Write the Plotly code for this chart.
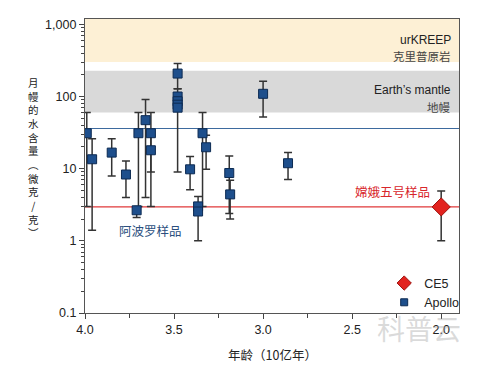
import plotly.graph_objects as go

# ---- data ----
apollo_age = [3.99, 3.96, 3.85, 3.77, 3.70, 3.71, 3.66, 3.63, 3.63, 3.48, 3.48, 3.48, 3.48, 3.48,
              3.41, 3.34, 3.365, 3.365, 3.32, 3.19, 3.185, 3.00, 2.86]
apollo_h2o = [31, 13.5, 16.7, 8.3, 31, 2.65, 47, 31, 18, 208, 100, 86, 77, 70,
              9.8, 31, 3.0, 2.55, 19.8, 8.7, 4.4, 109, 11.9]
apollo_hi = [60, 26, 26, 12.8, 60, 2.95, 91, 60, 31, 287, 128, 100, 86, 77,
             14.8, 60, 4.1, 3.0, 29, 15, 6.9, 163, 16.7]
apollo_lo = [3, 1.4, 7.9, 4, 3, 2.1, 4, 3, 9, 128, 9, 86, 77, 70,
             5.1, 3, 2.55, 1.0, 9.8, 2.4, 2.0, 52, 7.1]

ce5_age = [2.0]
ce5_h2o = [2.95]
ce5_hi = [4.9]
ce5_lo = [1.0]

urkreep_band = [300, 1190]
mantle_band = [60, 228]
apollo_line = 36
ce5_line = 2.95

x_tickvals = [4.0, 3.5, 3.0, 2.5, 2.0]
x_ticktext = ["4.0", "3.5", "3.0", "2.5", "2.0"]
y_tickvals = [0.1, 1, 10, 100, 1000]
y_ticktext = ["0.1", "1", "10", "100", "1,000"]

FONT = "Liberation Sans, Arial, Noto Sans CJK SC, sans-serif"
CJK = "Noto Sans CJK SC, sans-serif"

APOLLO_FILL, APOLLO_EDGE = "#1e4f8c", "#0c2a52"
CE5_FILL, CE5_EDGE = "#e2231f", "#9e1410"

fig = go.Figure()

# bands and reference lines
fig.add_shape(type="rect", xref="paper", x0=0, x1=1, yref="y", y0=urkreep_band[0], y1=urkreep_band[1],
              fillcolor="#fdf0d5", line_width=0, layer="below")
fig.add_shape(type="rect", xref="paper", x0=0, x1=1, yref="y", y0=mantle_band[0], y1=mantle_band[1],
              fillcolor="#d9d9d9", line_width=0, layer="below")
fig.add_shape(type="line", xref="paper", x0=0, x1=1, yref="y", y0=apollo_line, y1=apollo_line,
              line=dict(color="#3d6a9e", width=1.2), layer="below")
fig.add_shape(type="line", xref="paper", x0=0, x1=1, yref="y", y0=ce5_line, y1=ce5_line,
              line=dict(color="#e0383a", width=1.2), layer="below")

fig.add_trace(go.Scatter(
    x=apollo_age, y=apollo_h2o, mode="markers", name="Apollo", showlegend=False,
    marker=dict(symbol="square", size=9, color=APOLLO_FILL, line=dict(color=APOLLO_EDGE, width=1)),
    error_y=dict(type="data", symmetric=False,
                 array=[h - v for h, v in zip(apollo_hi, apollo_h2o)],
                 arrayminus=[v - l for v, l in zip(apollo_h2o, apollo_lo)],
                 color="#333333", thickness=1.5, width=4),
))
fig.add_trace(go.Scatter(
    x=ce5_age, y=ce5_h2o, mode="markers", name="CE5", showlegend=False,
    marker=dict(symbol="diamond", size=14, color=CE5_FILL, line=dict(color=CE5_EDGE, width=1)),
    error_y=dict(type="data", symmetric=False,
                 array=[h - v for h, v in zip(ce5_hi, ce5_h2o)],
                 arrayminus=[v - l for v, l in zip(ce5_h2o, ce5_lo)],
                 color="#333333", thickness=1.5, width=4),
))
# legend entries (smaller legend symbols, as in the reference)
fig.add_trace(go.Scatter(x=[None], y=[None], mode="markers", name="CE5", legendrank=1,
                         marker=dict(symbol="diamond", size=11, color=CE5_FILL,
                                     line=dict(color=CE5_EDGE, width=1))))
fig.add_trace(go.Scatter(x=[None], y=[None], mode="markers", name="Apollo", legendrank=2,
                         marker=dict(symbol="square", size=7, color=APOLLO_FILL,
                                     line=dict(color=APOLLO_EDGE, width=1))))

minor_y = [m * 10 ** e for e in range(-1, 3) for m in range(2, 10)]

fig.update_xaxes(
    range=[4.0, 1.9], tickvals=x_tickvals, ticktext=x_ticktext,
    ticks="outside", ticklen=5, tickwidth=1.2, tickcolor="#444",
    minor=dict(dtick=0.25, tick0=0, ticks="outside", ticklen=4, tickcolor="#444"),
    showline=True, mirror=True, linecolor="#555", linewidth=1.3,
    showgrid=False, zeroline=False, tickfont=dict(size=12.5, color="#222", family=FONT),
)
fig.update_yaxes(
    type="log", range=[-1, 3.074], tickvals=y_tickvals, ticktext=y_ticktext,
    ticks="outside", ticklen=5, tickwidth=1.2, tickcolor="#444",
    minor=dict(tickvals=minor_y, ticks="outside", ticklen=3, tickcolor="#444"),
    showline=True, mirror=True, linecolor="#555", linewidth=1.3,
    showgrid=False, zeroline=False, tickfont=dict(size=12.5, color="#222", family=FONT),
)

ann = [
    dict(text="urKREEP", x=0.983, y=0.928, xanchor="right", yanchor="middle",
         font=dict(size=12, color="#222", family=FONT)),
    dict(text="克里普原岩", x=0.983, y=0.874, xanchor="right", yanchor="middle",
         font=dict(size=11.5, color="#444", family=CJK)),
    dict(text="Earth’s mantle", x=0.983, y=0.758, xanchor="right", yanchor="middle",
         font=dict(size=12, color="#222", family=FONT)),
    dict(text="地幔", x=0.983, y=0.702, xanchor="right", yanchor="middle",
         font=dict(size=11.5, color="#444", family=CJK)),
    dict(text="嫦娥五号样品", x=0.927, y=0.412, xanchor="right", yanchor="middle",
         font=dict(size=12.5, color="#d8262b", family=CJK)),
    dict(text="阿波罗样品", x=0.176, y=0.279, xanchor="center", yanchor="middle",
         font=dict(size=12.5, color="#2b4f7e", family=CJK)),
    dict(text="年龄（10亿年）", x=0.5, y=-0.14, xanchor="center", yanchor="middle",
         font=dict(size=12.5, color="#222", family=CJK)),
    dict(text="<br>".join(list("月幔的水含量︵微克/克︶")), x=-0.138, y=0.53,
         xanchor="center", yanchor="middle",
         font=dict(size=10.5, color="#222", family=CJK)),
    dict(text="科普云", x=1.011, y=-0.05, xanchor="right", yanchor="middle",
         font=dict(size=28, color="rgba(150,150,150,0.35)", family=CJK)),
]
for a in ann:
    a.update(xref="paper", yref="paper", showarrow=False)
fig.update_layout(annotations=ann)

# the page body adds an 8px offset, so the figure is sized to fit the 500x371 window
fig.update_layout(
    width=492, height=363,
    margin=dict(l=77, r=41, t=11, b=58),
    paper_bgcolor="white", plot_bgcolor="white",
    font=dict(family=FONT, size=12, color="#222"),
    showlegend=True,
    legend=dict(x=0.80, y=-0.015, xanchor="left", yanchor="bottom",
                bgcolor="rgba(0,0,0,0)", font=dict(size=12.5, color="#222", family=FONT),
                itemsizing="trace", tracegroupgap=0),
)

fig.write_html("out.html")
